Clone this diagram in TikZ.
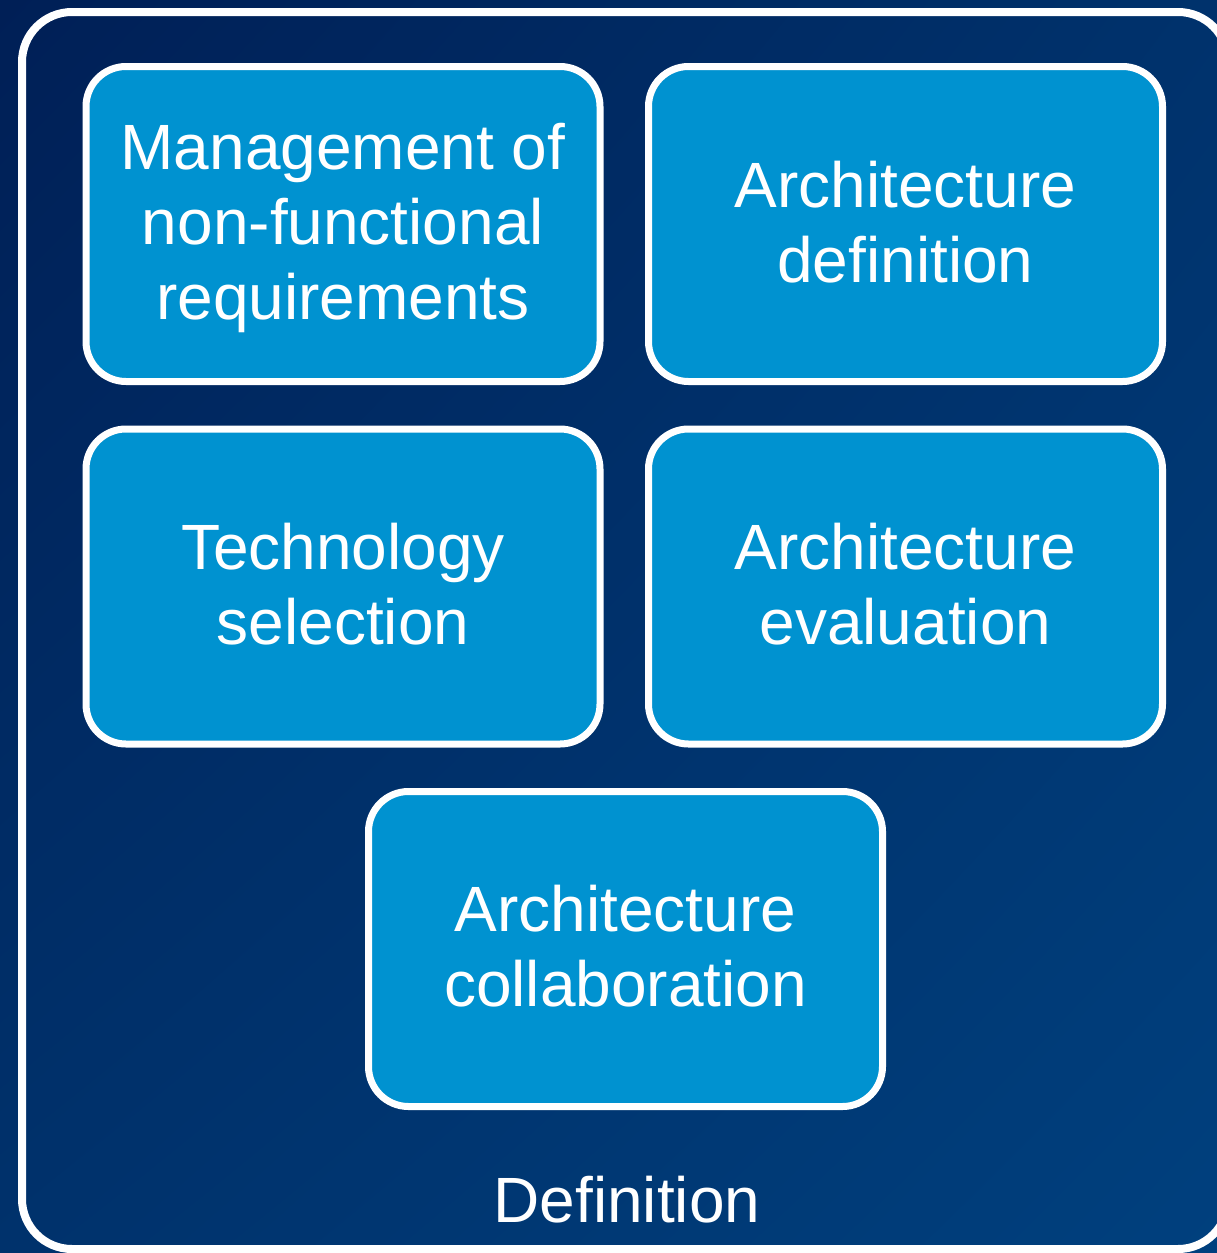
\documentclass[tikz,border=0pt]{standalone}
\usepackage{fontspec}
\setmainfont{Liberation Sans}
\usetikzlibrary{shadings}
\definecolor{navyA}{RGB}{0,31,86}
\definecolor{navyB}{RGB}{0,50,108}
\definecolor{navyC}{RGB}{0,64,126}
\definecolor{boxblue}{RGB}{0,146,208}
\begin{document}
\begin{tikzpicture}[x=1pt,y=-1pt,
  card/.style={draw=white, line width=7pt, fill=boxblue, rounded corners=40pt,
    minimum width=514pt, minimum height=315pt, text=white, align=center,
    font=\fontsize{64}{75}\selectfont, inner sep=0pt},
  lbl/.style={text=white, font=\fontsize{64}{75}\selectfont, inner sep=0pt}]
\useasboundingbox (0,0) rectangle (1217,1253);
\shade[upper left=navyA, lower right=navyC, upper right=navyB, lower left=navyB] (0,0) rectangle (1217,1253);
\begin{scope}
\clip (0,0) rectangle (1217,1253);
\draw[white, line width=8pt, rounded corners=50pt] (22,12) rectangle (1228,1249);
\end{scope}
\node[card] (mgmt) at (343,224) {};
\node[text=white, align=center, font=\fontsize{64}{75}\selectfont, inner sep=0pt] (mgmtT) at (343,228) {Management of\\non-functional\\requirements};
\node[card] (adef) at (905.5,224) {};
\node[text=white, align=center, font=\fontsize{64}{75}\selectfont, inner sep=0pt] (adefT) at (905.5,222) {Architecture\\definition};
\node[card] (tech) at (343,586.5) {};
\node[text=white, align=center, font=\fontsize{64}{75}\selectfont, inner sep=0pt] (techT) at (343,584) {Technology\\selection};
\node[card] (aeval) at (905.5,586.5) {};
\node[text=white, align=center, font=\fontsize{64}{75}\selectfont, inner sep=0pt] (aevalT) at (905.5,584) {Architecture\\evaluation};
\node[card] (acoll) at (625.5,949) {};
\node[text=white, align=center, font=\fontsize{64}{75}\selectfont, inner sep=0pt] (acollT) at (625.5,946.5) {Architecture\\collaboration};
\node[lbl] (def) at (627,1200) {Definition};
\end{tikzpicture}
\end{document}
